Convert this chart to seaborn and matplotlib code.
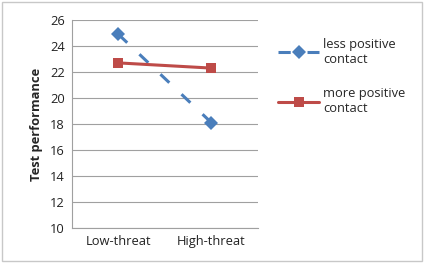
import pandas as pd
import matplotlib.pyplot as plt
import seaborn as sns
from matplotlib.patches import Rectangle

# Data
conditions = ["Low-threat", "High-threat"]
less_contact = [24.9, 18.1]
more_contact = [22.7, 22.3]
series_names = ["less positive\ncontact", "more positive\ncontact"]

df = pd.DataFrame({
    "condition": conditions * 2,
    "score": less_contact + more_contact,
    "group": [series_names[0]] * 2 + [series_names[1]] * 2,
})

sns.set_style("white")
plt.rcParams["font.family"] = ["Open Sans", "DejaVu Sans"]

fig = plt.figure(figsize=(4.25, 2.63), dpi=100)
ax = fig.add_axes([0.169, 0.133, 0.438, 0.791])

palette = {series_names[0]: "#4A7EBB", series_names[1]: "#BE4B48"}
sns.lineplot(
    data=df, x="condition", y="score", hue="group", style="group",
    palette=palette,
    dashes={series_names[0]: (4, 5.5), series_names[1]: ""},
    markers={series_names[0]: "D", series_names[1]: "s"},
    markersize=7, linewidth=2.2, markeredgewidth=0,
    sort=False, ax=ax,
)

ax.set_xlim(-0.5, 1.5)
ax.set_ylim(10, 26)
ax.set_yticks(range(10, 27, 2))
ax.yaxis.grid(True, color="#a0a0a0", linewidth=0.8)
ax.set_axisbelow(True)
for s in ["top", "right"]:
    ax.spines[s].set_visible(False)
for s in ["left", "bottom"]:
    ax.spines[s].set_color("#a0a0a0")
    ax.spines[s].set_linewidth(0.8)
ax.tick_params(axis="both", labelsize=9.3, length=0, pad=5, colors="#222222")
ax.set_xlabel("")
ax.set_ylabel("Test performance", fontsize=9.3, fontweight="bold", labelpad=5)

leg = ax.legend(loc="upper left", bbox_to_anchor=(1.045, 0.97), frameon=False,
                fontsize=9.3, handlelength=3.2, labelspacing=1.65, handletextpad=0.3)

fig.patches.append(Rectangle((0.004, 0.006), 0.99, 0.985, transform=fig.transFigure,
                             fill=False, edgecolor="#c8c8c8", linewidth=1.0))

fig.savefig("out.png", dpi=100)
